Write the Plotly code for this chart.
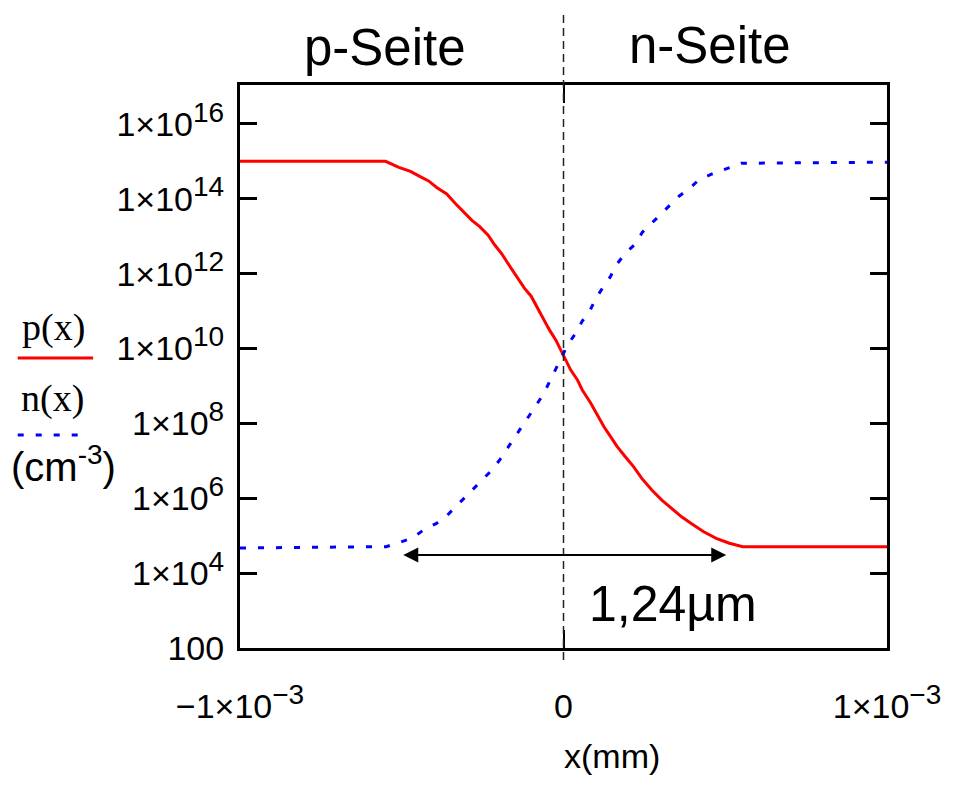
import plotly.graph_objects as go

# ---- data (x in µm, concentrations in cm^-3) ----
p_x_um = [-1.000, -0.550, -0.509, -0.473, -0.443, -0.417, -0.392, -0.361, -0.335, -0.310,
          -0.284, -0.259, -0.233, -0.213, -0.192, -0.172, -0.141, -0.121, -0.100, -0.080,
          -0.059, -0.044, -0.024, -0.008, 0.007, 0.022, 0.043, 0.058, 0.084, 0.104,
          0.125, 0.145, 0.166, 0.191, 0.217, 0.242, 0.273, 0.304, 0.334, 0.365,
          0.396, 0.432, 0.472, 0.513, 0.554, 1.000]
p_val = [1.0e15, 1.0e15, 6.9e14, 5.4e14, 3.9e14, 3.0e14, 2.0e14, 1.35e14, 7.6e13, 4.6e13,
         2.7e13, 1.8e13, 1.07e13, 5.9e12, 3.5e12, 1.9e12, 7.6e11, 4.1e11, 2.5e11, 1.2e11,
         5.8e10, 3.2e10, 1.7e10, 9.1e9, 4.9e9, 2.7e9, 1.45e9, 7.8e8, 3.5e8, 1.66e8,
         8.1e7, 4.5e7, 2.4e7, 1.29e7, 6.9e6, 3.4e6, 1.66e6, 8.9e5, 5.4e5, 3.2e5,
         2.1e5, 1.29e5, 8.5e4, 6.3e4, 5.1e4, 5.1e4]

n_x_um = [-1.000, -0.548, -0.507, -0.465, -0.430, -0.394, -0.361, -0.333, -0.306, -0.276,
          -0.248, -0.220, -0.196, -0.174, -0.151, -0.127, -0.105, -0.083, -0.061, -0.042,
          -0.024, -0.005, 0.013, 0.038, 0.058, 0.081, 0.099, 0.122, 0.145, 0.163,
          0.192, 0.222, 0.244, 0.272, 0.300, 0.328, 0.357, 0.390, 0.418, 0.459,
          0.507, 0.550, 1.000]
n_val = [4.7e4, 5.1e4, 6.6e4, 8.9e4, 1.48e5, 2.1e5, 3.4e5, 6.0e5, 1.05e6, 1.82e6,
         3.3e6, 5.8e6, 1.1e7, 2.1e7, 4.0e7, 8.1e7, 1.66e8, 3.2e8, 6.3e8, 1.38e9,
         2.8e9, 6.0e9, 1.26e10, 2.6e10, 5.4e10, 1.0e11, 2.1e11, 4.3e11, 8.3e11, 1.7e12,
         3.6e12, 6.2e12, 1.29e13, 2.2e13, 3.9e13, 6.8e13, 1.17e14, 1.9e14, 3.2e14, 4.6e14,
         6.6e14, 8.9e14, 9.5e14]

SUP = '<sup><span style="font-size:28px">{}</span></sup>'
x_tickvals = [-1e-3, 0, 1e-3]
x_ticktext = ["\u22121\u00d710" + SUP.format("\u22123"), "0", "1\u00d710" + SUP.format("\u22123")]
y_tickvals = [1e2, 1e4, 1e6, 1e8, 1e10, 1e12, 1e14, 1e16]
y_exponents = ["", "4", "6", "8", "10", "12", "14", "16"]
y_ticktext = ["100"] + ["1\u00d710" + SUP.format(e) for e in y_exponents[1:]]

# ---- layout geometry (pixels) ----
W, H = 953, 789
L, R, T, B = 240, 892, 85, 648


def px(xp):
    return (xp - L) / (R - L)


def py(yp):
    return (B - yp) / (B - T)


fig = go.Figure()
fig.add_trace(go.Scatter(x=[v / 1000 for v in p_x_um], y=p_val, mode="lines",
                         line=dict(color="#ff0000", width=3), name="p(x)"))
fig.add_trace(go.Scatter(x=[v / 1000 for v in n_x_um], y=n_val, mode="lines",
                         line=dict(color="#0000ff", width=3, dash="6px,12px"), name="n(x)"))

tickfont = dict(family="Liberation Sans Narrow, Liberation Sans, Arial", size=34, color="black")

fig.update_layout(
    width=W, height=H,
    margin=dict(l=L, r=W - R, t=T, b=H - B, pad=0),
    paper_bgcolor="white", plot_bgcolor="white",
    showlegend=False,
    xaxis=dict(range=[-1e-3, 1e-3], tickvals=x_tickvals, ticktext=x_ticktext,
               ticks="inside", ticklen=18, tickwidth=2, tickcolor="black",
               showline=True, linewidth=3, linecolor="black", mirror="ticks",
               showgrid=False, zeroline=False, tickfont=tickfont, ticklabelstandoff=26),
    yaxis=dict(type="log", range=[2, 17.04], tickvals=y_tickvals, ticktext=y_ticktext,
               ticks="inside", ticklen=17, tickwidth=3, tickcolor="black",
               showline=True, linewidth=3, linecolor="black", mirror="ticks",
               showgrid=False, zeroline=False, tickfont=tickfont, ticklabelstandoff=6),
)

# vertical dashed junction line
fig.add_shape(type="line", xref="x", yref="paper", x0=0, x1=0, y0=py(660), y1=py(10),
              line=dict(color="#222222", width=1.5, dash="8px,5px"))

# legend samples on the left
fig.add_shape(type="line", xref="paper", yref="paper", x0=px(16), x1=px(92), y0=py(358), y1=py(358),
              line=dict(color="#ff0000", width=3))
fig.add_shape(type="line", xref="paper", yref="paper", x0=px(16), x1=px(84), y0=py(435), y1=py(435),
              line=dict(color="#0000ff", width=3, dash="6px,12px"))

serif = dict(family="Liberation Serif, Times New Roman", size=38, color="black")
sans = "Liberation Sans, Arial"
ann = [
    dict(text="p-Seite", x=px(386), y=py(47), font=dict(family=sans, size=51, color="black")),
    dict(text="n-Seite", x=px(714), y=py(45), font=dict(family=sans, size=51, color="black")),
    dict(text="p(x)", x=px(52), y=py(327), font=serif),
    dict(text="n(x)", x=px(51), y=py(398), font=serif),
    dict(text="(cm<sup>-3</sup>)", x=px(62), y=py(464), font=dict(family=sans, size=40, color="black")),
    dict(text="x(mm)", x=px(615), y=py(756), font=dict(family=sans, size=34, color="black")),
    dict(text="1,24\u00b5m", x=px(676), y=py(604), font=dict(family=sans, size=50, color="black")),
]
for a in ann:
    fig.add_annotation(xref="paper", yref="paper", showarrow=False,
                       xanchor="center", yanchor="middle", **a)

# double arrow for the depletion width
fig.add_annotation(xref="x", yref="y", axref="x", ayref="y",
                   x=0.503e-3, y=4.485, ax=-0.5e-3, ay=4.485, text="",
                   showarrow=True, arrowside="end+start", arrowhead=2,
                   arrowwidth=2, arrowsize=1.5, arrowcolor="black")

fig.write_html("out.html")
